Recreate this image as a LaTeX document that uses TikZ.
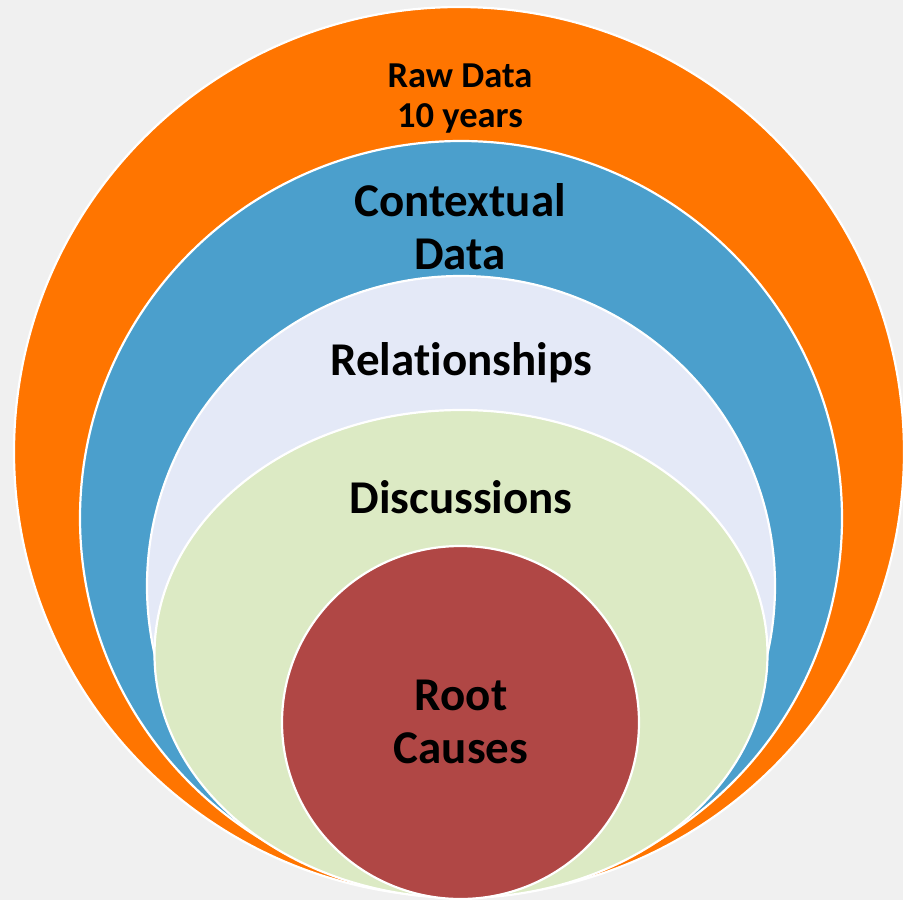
\documentclass[tikz,border=0pt]{standalone}
\usepackage{fontspec}
\setmainfont[Ligatures={NoCommon}]{Carlito}
\definecolor{bgc}{RGB}{240,240,240}
\definecolor{orangec}{RGB}{255,117,0}
\definecolor{bluec}{RGB}{75,159,204}
\definecolor{lavc}{RGB}{228,233,247}
\definecolor{greenc}{RGB}{220,234,196}
\definecolor{redc}{RGB}{176,71,69}
\begin{document}
\begin{tikzpicture}[x=1pt,y=-1pt,
  ring/.style={draw=white,line width=2.2pt},
  lbl/.style={font=\bfseries\fontsize{47}{53}\selectfont,align=center,text=black,inner sep=0pt},
  lblsmall/.style={font=\bfseries\fontsize{36.5}{40}\selectfont,align=center,text=black,inner sep=0pt}]
\useasboundingbox (0,0) rectangle (903,900);
\clip (0,0) rectangle (903,900);
\fill[bgc] (0,0) rectangle (903,900);
\path[ring,fill=orangec] (459,452) ellipse [x radius=445,y radius=445];
\path[ring,fill=bluec] (461,518) ellipse [x radius=381,y radius=377];
\path[ring,fill=lavc] (461,586) ellipse [x radius=314,y radius=310];
\path[ring,fill=greenc] (461,654) ellipse [x radius=306.5,y radius=244];
\path[ring,fill=redc] (460.5,722.5) ellipse [x radius=178.5,y radius=176.5];
\node[lblsmall] (raw) at (460,99) {Raw Data\\10 years};
\node[lbl] (ctx) at (460,227) {Contextual\\Data};
\node[lbl] (rel) at (461,363) {Relationships};
\node[lbl] (dis) at (461,497) {Discussions};
\node[lbl] (root) at (461,722) {Root\\Causes};
\end{tikzpicture}
\end{document}
